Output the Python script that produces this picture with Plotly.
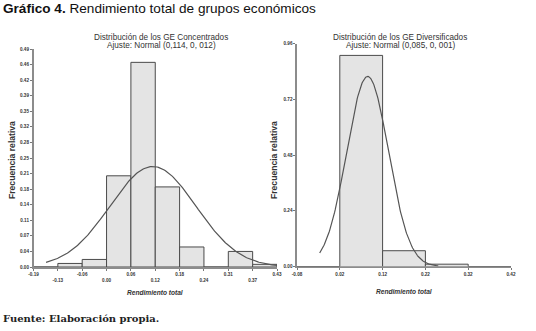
import numpy as np
import plotly.graph_objects as go

# ---------------- data ----------------
# Left: GE Concentrados
conc_edges = [-0.19, -0.128, -0.066, -0.004, 0.058, 0.12, 0.182, 0.244, 0.306, 0.368, 0.43]
conc_freq = [0.0, 0.008, 0.017, 0.205, 0.46, 0.18, 0.045, 0.0, 0.035, 0.006]
conc_ticklabels = ["-0.19", "-0.13", "-0.06", "0.00", "0.06", "0.12", "0.18", "0.24", "0.31", "0.37", "0.43"]
conc_yticks = [0.0, 0.035, 0.07, 0.105, 0.14, 0.175, 0.21, 0.245, 0.28, 0.315, 0.35, 0.385, 0.42, 0.455, 0.49]
conc_yticklabels = ["0.00", "0.04", "0.07", "0.11", "0.14", "0.18", "0.21", "0.25", "0.28", "0.32", "0.35", "0.39", "0.42", "0.46", "0.49"]
conc_mean, conc_sd = 0.114, 0.1095
conc_curve_range = (-0.158, 0.435)

# Right: GE Diversificados
div_edges = [-0.08, 0.02, 0.12, 0.22, 0.32, 0.42]
div_freq = [0.0, 0.91, 0.068, 0.01, 0.0]
div_ticklabels = ["-0.08", "0.02", "0.12", "0.22", "0.32", "0.42"]
div_yticks = [0.0, 0.24, 0.48, 0.72, 0.96]
div_yticklabels = ["0.00", "0.24", "0.48", "0.72", "0.96"]
div_mean, div_sd = 0.085, 0.0487
div_curve_range = (-0.027, 0.25)

W, H = 536, 331
FONT = "Liberation Sans, Arial, sans-serif"
BAR_FILL = "#e4e4e4"
BAR_LINE = "#4a4a4a"
CURVE = "#555555"
AXIS = "#8c8c8c"


def bars(edges, freq, xa, ya):
    e = np.array(edges)
    centers = (e[:-1] + e[1:]) / 2
    widths = e[1:] - e[:-1]
    return go.Bar(x=centers, y=freq, width=widths, xaxis=xa, yaxis=ya,
                  marker=dict(color=BAR_FILL, line=dict(color=BAR_LINE, width=1)),
                  showlegend=False, hoverinfo="skip")


def curve(mean, sd, binw, rng, xa, ya):
    xs = np.linspace(rng[0], rng[1], 200)
    ys = binw * np.exp(-0.5 * ((xs - mean) / sd) ** 2) / (sd * np.sqrt(2 * np.pi))
    return go.Scatter(x=xs, y=ys, mode="lines", xaxis=xa, yaxis=ya,
                      line=dict(color=CURVE, width=1.2), showlegend=False, hoverinfo="skip")


fig = go.Figure()
fig.add_trace(bars(conc_edges, conc_freq, "x", "y"))
fig.add_trace(curve(conc_mean, conc_sd, conc_edges[1] - conc_edges[0], conc_curve_range, "x", "y"))
fig.add_trace(bars(div_edges, div_freq, "x2", "y2"))
fig.add_trace(curve(div_mean, div_sd, div_edges[1] - div_edges[0], div_curve_range, "x2", "y2"))

conc_xtext = [t if i % 2 == 0 else "<br>" + t for i, t in enumerate(conc_ticklabels)]

tickfont = dict(family=FONT, size=4.6, color="#333333", weight="bold")
axis_common = dict(showgrid=False, zeroline=False, showline=True, linecolor=AXIS, linewidth=1.6,
                   ticks="outside", ticklen=2, tickcolor="#555555", tickwidth=0.8, tickfont=tickfont,
                   automargin=False, fixedrange=True)

fig.update_layout(
    template="none",
    width=W, height=H,
    margin=dict(l=0, r=0, t=0, b=0, pad=0),
    paper_bgcolor="white", plot_bgcolor="white",
    barmode="overlay", bargap=0,
    hovermode=False,
    xaxis=dict(domain=[33.5 / W, 277 / W], range=[-0.19, 0.43], anchor="y",
               tickmode="array", tickvals=conc_edges, ticktext=conc_xtext, **axis_common),
    yaxis=dict(domain=[(H - 267) / H, (H - 49) / H], range=[0, 0.49], anchor="x",
               tickmode="array", tickvals=conc_yticks, ticktext=conc_yticklabels, **axis_common),
    xaxis2=dict(domain=[297 / W, 511 / W], range=[-0.08, 0.42], anchor="y2",
                tickmode="array", tickvals=div_edges, ticktext=div_ticklabels, **axis_common),
    yaxis2=dict(domain=[(H - 266.5) / H, (H - 43.8) / H], range=[0, 0.96], anchor="x2",
                tickmode="array", tickvals=div_yticks, ticktext=div_yticklabels, **axis_common),
)


def ann(text, x, y, size, xanchor="center", angle=0, color="#333333", family=FONT):
    fig.add_annotation(text=text, x=x / W, y=1 - y / H, xref="paper", yref="paper",
                       xanchor=xanchor, yanchor="middle", showarrow=False, textangle=angle,
                       font=dict(family=family, size=size, color=color))


ann("<b>Gráfico 4.</b> Rendimiento total de grupos económicos", 1, 8, 13.6, xanchor="left", color="#111111")
ann("Distribución de los GE Concentrados", 161, 37.5, 8.2)
ann("Ajuste: Normal (0,114, 0, 012)", 161, 45.5, 8.2)
ann("Distribución de los GE Diversificados", 400, 37.5, 8.2)
ann("Ajuste: Normal (0,085, 0, 001)", 400, 45.5, 8.2)
ann("<b>Frecuencia relativa</b>", 12, 160, 8.6, angle=-90)
ann("<b>Frecuencia relativa</b>", 274, 160, 8.6, angle=-90)
ann("<b><i>Rendimiento total</i></b>", 155, 292, 6.6)
ann("<b><i>Rendimiento total</i></b>", 404, 291, 6.6)
ann("<b>Fuente: Elaboración propia.</b>", 1, 318, 10, xanchor="left", color="#222222",
    family="DejaVu Serif, serif")

fig.write_html("out.html",
               config={"displayModeBar": False, "staticPlot": True},
               post_script="document.body.style.margin='0';document.body.style.overflow='hidden';")
